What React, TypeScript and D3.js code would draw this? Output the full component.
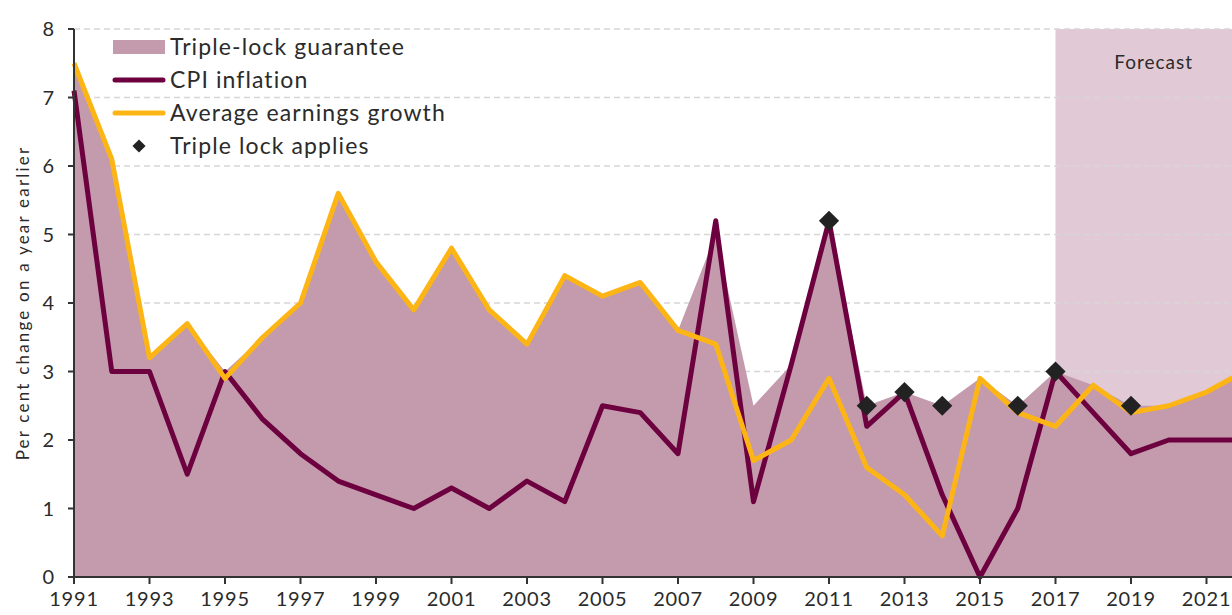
import React from 'react';
import * as d3 from 'd3';

// Data
const years = [1991, 1992, 1993, 1994, 1995, 1996, 1997, 1998, 1999, 2000, 2001, 2002, 2003, 2004, 2005, 2006,
  2007, 2008, 2009, 2010, 2011, 2012, 2013, 2014, 2015, 2016, 2017, 2018, 2019, 2020, 2021, 2022];
const cpi = [7.1, 3.0, 3.0, 1.5, 3.0, 2.3, 1.8, 1.4, 1.2, 1.0, 1.3, 1.0, 1.4, 1.1, 2.5, 2.4,
  1.8, 5.2, 1.1, 3.1, 5.2, 2.2, 2.7, 1.2, 0.0, 1.0, 3.0, 2.4, 1.8, 2.0, 2.0, 2.0];
const earnings = [7.5, 6.1, 3.2, 3.7, 2.9, 3.5, 4.0, 5.6, 4.6, 3.9, 4.8, 3.9, 3.4, 4.4, 4.1, 4.3,
  3.6, 3.4, 1.7, 2.0, 2.9, 1.6, 1.2, 0.6, 2.9, 2.4, 2.2, 2.8, 2.4, 2.5, 2.7, 3.0];
const tripleLock = [7.5, 6.1, 3.2, 3.7, 3.0, 3.5, 4.0, 5.6, 4.6, 3.9, 4.8, 3.9, 3.4, 4.4, 4.1, 4.3,
  3.6, 5.0, 2.5, 3.1, 5.2, 2.5, 2.7, 2.5, 2.9, 2.5, 3.0, 2.8, 2.5, 2.5, 2.7, 3.0];
const lockApplies = [
  { year: 2011, value: 5.2 },
  { year: 2012, value: 2.5 },
  { year: 2013, value: 2.7 },
  { year: 2014, value: 2.5 },
  { year: 2016, value: 2.5 },
  { year: 2017, value: 3.0 },
  { year: 2019, value: 2.5 },
];
const forecastStart = 2017;
const xTicks = [1991, 1993, 1995, 1997, 1999, 2001, 2003, 2005, 2007, 2009, 2011, 2013, 2015, 2017, 2019, 2021];
const yTicks = [0, 1, 2, 3, 4, 5, 6, 7, 8];

const legendItems = ['Triple-lock guarantee', 'CPI inflation', 'Average earnings growth', 'Triple lock applies'];

const width = 1232;
const height = 615;
const font = 'Lato, "Open Sans", sans-serif';
const textColor = '#2b2b2b';
const plumb = '#6d003f';
const gold = '#fdb515';
const areaColor = '#c49aad';
const forecastColor = '#e1cad5';

const App = () => {
  const x = d3.scaleLinear().domain([1991, 2021]).range([74, 1206.5]);
  const y = d3.scaleLinear().domain([0, 8]).range([577, 29]);
  const right = x(2022);

  const area = d3.area<number>()
    .x((d, i) => x(years[i]))
    .y0(y(0))
    .y1(d => y(d));

  const line = d3.line<number>()
    .x((d, i) => x(years[i]))
    .y(d => y(d));

  const diamond = d3.symbol().type(d3.symbolDiamond2).size(260)();
  const legendDiamond = d3.symbol().type(d3.symbolDiamond2).size(110)();

  return (
    <svg width={width} height={height} style={{ position: 'absolute', left: 0, top: 0 }} fontFamily={font}>
      {/* forecast shading */}
      <rect x={x(forecastStart)} y={y(8)} width={right - x(forecastStart)} height={y(0) - y(8)} fill={forecastColor} />
      <text x={x(2019.6)} y={69} textAnchor="middle" fontSize={19} letterSpacing={1} fill={textColor}>Forecast</text>

      {/* gridlines */}
      {yTicks.filter(t => t > 0).map(t => (
        <line key={t} x1={x(1991)} x2={right} y1={y(t)} y2={y(t)} stroke="#d6d6d6" strokeWidth={1.5} strokeDasharray="6,4" />
      ))}

      <path d={area(tripleLock) || ''} fill={areaColor} />
      <path d={line(cpi) || ''} fill="none" stroke={plumb} strokeWidth={5} strokeLinejoin="round" />
      <path d={line(earnings) || ''} fill="none" stroke={gold} strokeWidth={5} strokeLinejoin="round" />

      {lockApplies.map(d => (
        <path key={d.year} d={diamond || ''} transform={`translate(${x(d.year)},${y(d.value)})`} fill="#222" />
      ))}

      {/* axes */}
      <line x1={x(1991)} x2={x(1991)} y1={y(8)} y2={y(0)} stroke="#333" strokeWidth={2} />
      <line x1={x(1991)} x2={right} y1={y(0)} y2={y(0)} stroke="#333" strokeWidth={2} />
      {yTicks.map(t => (
        <g key={t}>
          <line x1={x(1991) - 6} x2={x(1991)} y1={y(t)} y2={y(t)} stroke="#333" strokeWidth={2} />
          <text x={54} y={y(t)} dy="0.35em" textAnchor="end" fontSize={20} fill={textColor}>{t}</text>
        </g>
      ))}
      {xTicks.map(t => (
        <g key={t}>
          <line x1={x(t)} x2={x(t)} y1={y(0)} y2={y(0) + 7} stroke="#333" strokeWidth={2} />
          <text x={x(t)} y={606} textAnchor="middle" fontSize={20} letterSpacing={0.8} fill={textColor}>{t}</text>
        </g>
      ))}
      <text transform={`translate(29,${y(4)}) rotate(-90)`} textAnchor="middle" fontSize={17} letterSpacing={2.2} fill={textColor}>
        Per cent change on a year earlier
      </text>

      {/* legend */}
      <g>
        <rect x={113} y={40} width={52} height={14} fill={areaColor} />
        <line x1={115} x2={163} y1={80} y2={80} stroke={plumb} strokeWidth={5} strokeLinecap="round" />
        <line x1={115} x2={163} y1={113} y2={113} stroke={gold} strokeWidth={5} strokeLinecap="round" />
        <path d={legendDiamond || ''} transform="translate(139,146)" fill="#222" />
        {legendItems.map((label, i) => (
          <text key={label} x={170} y={47 + i * 33} dy="0.35em" fontSize={23} letterSpacing={1.1} fill={textColor}>{label}</text>
        ))}
      </g>
    </svg>
  );
};

export default App;
